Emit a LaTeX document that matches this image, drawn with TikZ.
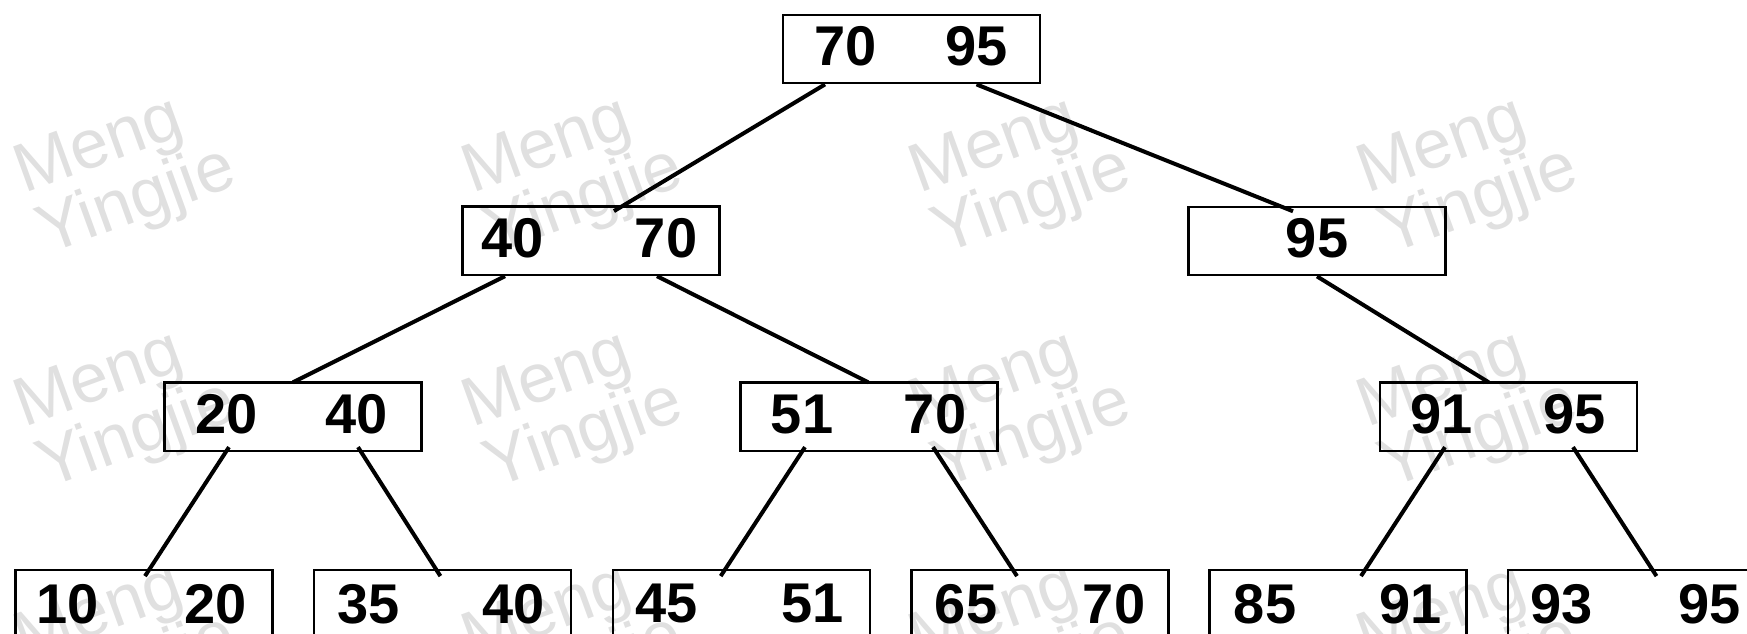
\documentclass[tikz,border=0pt]{standalone}
\usepackage{fontspec}
\setmainfont{Liberation Sans}
\begin{document}
\begin{tikzpicture}[x=1pt,y=-1pt,
  keybox/.style={draw, line width=2.3pt, minimum width=257pt, minimum height=68.5pt, inner sep=0pt},
  key/.style={font=\bfseries\fontsize{56}{60}\selectfont, inner sep=0pt},
  link/.style={line width=4pt},
  wmark/.style={text=black!12, font=\fontsize{69}{50}\selectfont, align=left, rotate=20, anchor=north west, inner sep=0pt}]
\useasboundingbox (0,0) rectangle (1747,634);

% background watermark grid
\foreach \c in {0,1,2,3}
  \foreach \r in {0,1,2}
    \node[wmark] (wm-\c-\r) at (8.3+447.5*\c, 148.7+234*\r) {Meng\\Yingjie};

% tree nodes
\node[keybox] (root) at (911.5,49) {};
\node[keybox] (l1a) at (591,240.8) {};
\node[keybox] (l1b) at (1317,241) {};
\node[keybox] (l2a) at (293,416.7) {};
\node[keybox] (l2b) at (869,416.7) {};
\node[keybox] (l2c) at (1508.7,416.7) {};
\node[keybox] (l3a) at (144,604.5) {};
\node[keybox] (l3b) at (442.4,604.5) {};
\node[keybox] (l3c) at (741.2,604.5) {};
\node[keybox] (l3d) at (1040,604.5) {};
\node[keybox] (l3e) at (1338,604.5) {};
\node[keybox] (l3f) at (1636.5,604.5) {};

% keys
\node[key] (root-k1) at ([xshift=-66pt,yshift=3pt]root.center) {70};
\node[key] (root-k2) at ([xshift=65pt,yshift=3pt]root.center) {95};
\node[key] (l1a-k1) at ([xshift=-78pt,yshift=2.5pt]l1a.center) {40};
\node[key] (l1a-k2) at ([xshift=75pt,yshift=2.5pt]l1a.center) {70};
\node[key] (l1b-k1) at ([yshift=2.5pt]l1b.center) {95};
\node[key] (l2a-k1) at ([xshift=-66pt,yshift=2pt]l2a.center) {20};
\node[key] (l2a-k2) at ([xshift=64pt,yshift=2pt]l2a.center) {40};
\node[key] (l2b-k1) at ([xshift=-67pt,yshift=2pt]l2b.center) {51};
\node[key] (l2b-k2) at ([xshift=66pt,yshift=2pt]l2b.center) {70};
\node[key] (l2c-k1) at ([xshift=-67pt,yshift=2pt]l2c.center) {91};
\node[key] (l2c-k2) at ([xshift=65.5pt,yshift=2pt]l2c.center) {95};
\node[key] (l3a-k1) at ([xshift=-76pt,yshift=0.5pt]l3a.center) {10};
\node[key] (l3a-k2) at ([xshift=72pt,yshift=0.5pt]l3a.center) {20};
\node[key] (l3b-k1) at ([xshift=-74pt,yshift=0.5pt]l3b.center) {35};
\node[key] (l3b-k2) at ([xshift=71pt,yshift=0.5pt]l3b.center) {40};
\node[key] (l3c-k1) at ([xshift=-75pt,yshift=0.5pt]l3c.center) {45};
\node[key] (l3c-k2) at ([xshift=71pt,yshift=0.5pt]l3c.center) {51};
\node[key] (l3d-k1) at ([xshift=-74pt,yshift=0.5pt]l3d.center) {65};
\node[key] (l3d-k2) at ([xshift=74pt,yshift=0.5pt]l3d.center) {70};
\node[key] (l3e-k1) at ([xshift=-73pt,yshift=0.5pt]l3e.center) {85};
\node[key] (l3e-k2) at ([xshift=72.6pt,yshift=0.5pt]l3e.center) {91};
\node[key] (l3f-k1) at ([xshift=-75pt,yshift=0.5pt]l3f.center) {93};
\node[key] (l3f-k2) at ([xshift=73pt,yshift=0.5pt]l3f.center) {95};

% child links
\draw[link] ([xshift=-86.5pt]root.south) -- ([xshift=23pt,yshift=-5.7pt]l1a.north);
\draw[link] ([xshift=65pt]root.south) -- ([xshift=-24pt,yshift=-5.7pt]l1b.north);
\draw[link] ([xshift=-86pt]l1a.south) -- ([yshift=-1pt]l2a.north);
\draw[link] ([xshift=66pt]l1a.south) -- ([xshift=-0.7pt,yshift=-1pt]l2b.north);
\draw[link] (l1b.south) -- ([xshift=-20pt,yshift=-1pt]l2c.north);
\draw[link] ([xshift=-64pt,yshift=5pt]l2a.south) -- ([xshift=1pt,yshift=-7pt]l3a.north);
\draw[link] ([xshift=65pt,yshift=5pt]l2a.south) -- ([xshift=-2pt,yshift=-7pt]l3b.north);
\draw[link] ([xshift=-64pt,yshift=5pt]l2b.south) -- ([xshift=-20.5pt,yshift=-7pt]l3c.north);
\draw[link] ([xshift=64pt,yshift=5pt]l2b.south) -- ([xshift=-23pt,yshift=-7pt]l3d.north);
\draw[link] ([xshift=-63.7pt,yshift=5pt]l2c.south) -- ([xshift=23pt,yshift=-7pt]l3e.north);
\draw[link] ([xshift=64.3pt,yshift=5pt]l2c.south) -- ([xshift=20pt,yshift=-7pt]l3f.north);
\end{tikzpicture}
\end{document}
